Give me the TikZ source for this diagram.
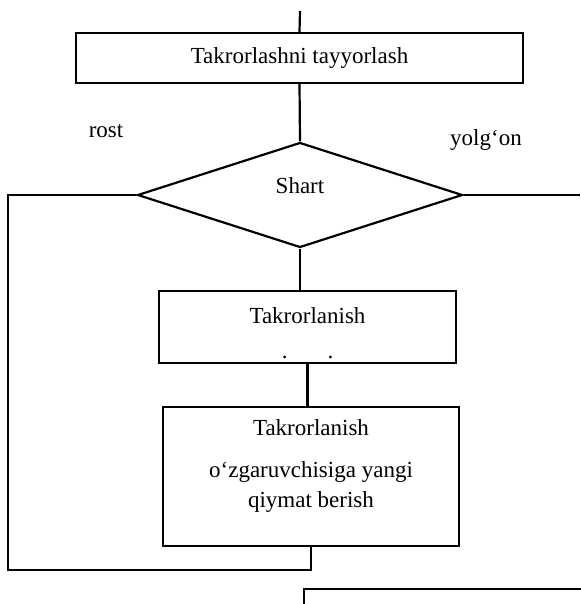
\documentclass[tikz,border=0pt]{standalone}
\usepackage{fontspec}
\setmainfont{Liberation Serif}
\usepackage{tikz}
\usetikzlibrary{positioning,shapes.geometric}

\begin{document}
\begin{tikzpicture}[
  x=0.5pt, y=-0.5pt,
  every node/.style={font=\fontsize{11.5}{15}\selectfont},
  block/.style={draw, line width=1.1pt, rectangle, inner sep=0pt, align=center},
  cond/.style={draw, line width=1.1pt, diamond, inner sep=0pt,
    minimum width=162.5pt, minimum height=52.5pt},
  lbl/.style={inner sep=0pt},
  link/.style={line width=1.1pt}
]
\useasboundingbox (0,0) rectangle (580,604);
\coordinate (entry) at (300,11);
\node[block, minimum width=223.5pt, minimum height=25pt] (prep) at (299.5,58) {Takrorlashni tayyorlash};
\node[lbl] (rost) at (106,131) {rost};
\node[lbl] (yolgon) at (486,140) {yolg‘on};
\node[cond, label={[yshift=4.5pt]center:Shart}] (shart) at (300,195) {};
\node[block, minimum width=148.5pt, minimum height=36pt, text height=32pt] (body) at (307.5,327) {Takrorlanish\\[2.5pt].\hspace{20pt}.};
\node[block, minimum width=148pt, minimum height=69.5pt, text depth=13pt] (upd) at (311,476.5) {Takrorlanish\\[6pt]o‘zgaruvchisiga yangi\\qiymat berish};
\node[block, anchor=north west, minimum width=200pt, minimum height=60pt] (next) at (303,588) {};
\coordinate (loopL) at (8,570);
\coordinate (exitR) at (580,195);

\draw[link] (entry) -- (prep.north);
\draw[link] (prep.south) -- (shart.north);
\draw[link] (shart.south) -- (shart.south |- body.north);
\draw[link] (body.south) -- (body.south |- upd.north);
\draw[link] (shart.west) -| (loopL) -| (upd.south);
\draw[link] (shart.east) -- (exitR);
\end{tikzpicture}
\end{document}
